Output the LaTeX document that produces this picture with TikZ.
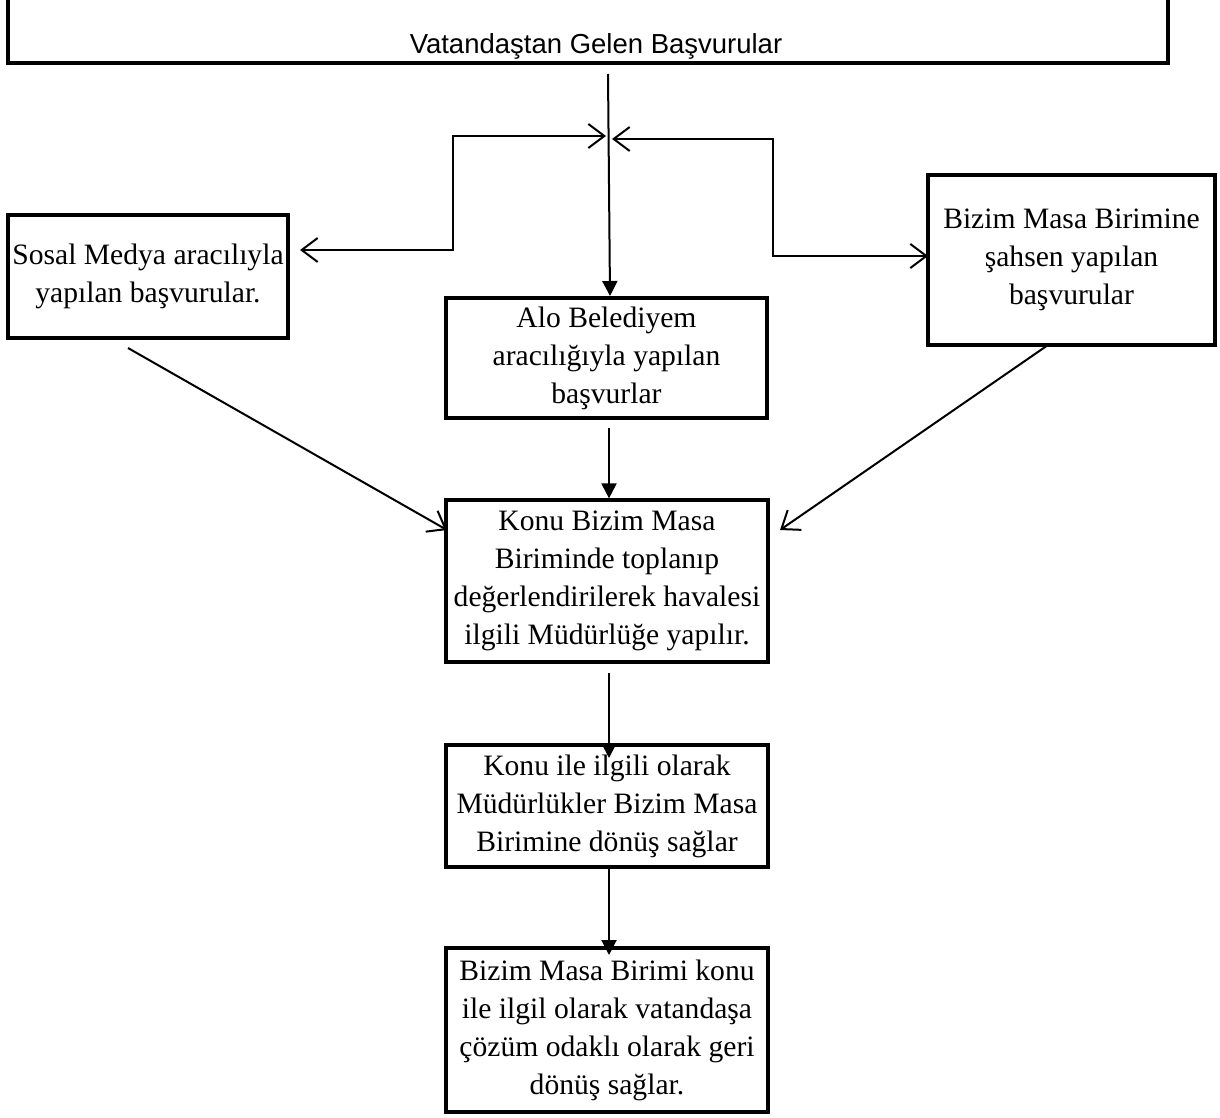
\documentclass[tikz,border=0pt]{standalone}
\usepackage{fontspec}
\setmainfont{Liberation Serif}
\newfontfamily\sansf{Liberation Sans}
\usetikzlibrary{arrows.meta}
\tikzset{
  box/.style={draw, line width=3.2pt, align=center, inner sep=0pt,
    font=\fontsize{29.6}{38}\selectfont},
  conn/.style={line width=2pt},
  fillarrow/.style={conn, -{Triangle[length=15pt,width=15pt]}},
  openarrow/.style={conn, -{Straight Barb[length=16pt,width=24pt,line width=2pt]}},
  openboth/.style={conn, {Straight Barb[length=16pt,width=24pt,line width=2pt]}-{Straight Barb[length=16pt,width=24pt,line width=2pt]}},
}
\begin{document}
\begin{tikzpicture}[x=1pt,y=-1pt]
\useasboundingbox (0,0) rectangle (1220,1118);
\clip (0,0) rectangle (1220,1118);
% boxes
\node[box, minimum width=1160pt, minimum height=83pt] (top) at (588,21.5) {};
\node[font=\sansf\fontsize{27.5}{30}\selectfont, inner sep=0pt] (toptext) at (596,46) {Vatandaştan Gelen Başvurular};
\node[box, minimum width=280pt, minimum height=123pt] (sosal) at (148,276.5) {Sosal Medya aracılıyla\\yapılan başvurular.};
\node[box, minimum width=287pt, minimum height=170pt] (sahsen) at (1071.5,260) {Bizim Masa Birimine\\şahsen yapılan\\başvurular};
\node[box, minimum width=321pt, minimum height=120pt] (alo) at (606.5,358) {Alo Belediyem\\aracılığıyla yapılan\\başvurlar};
\node[box, minimum width=322pt, minimum height=162pt] (konu) at (607,581) {Konu Bizim Masa\\Biriminde toplanıp\\değerlendirilerek havalesi\\ilgili Müdürlüğe yapılır.};
\node[box, minimum width=322pt, minimum height=122pt] (mud) at (607,806) {Konu ile ilgili olarak\\Müdürlükler Bizim Masa\\Birimine dönüş sağlar};
\node[box, minimum width=322pt, minimum height=164pt] (geri) at (607,1030) {Bizim Masa Birimi konu\\ile ilgil olarak vatandaşa\\çözüm odaklı olarak geri\\dönüş sağlar.};
% coordinates
\coordinate (vs) at (608,74);
\coordinate (ve) at (610,296);
\coordinate (jl) at (606,136);
\coordinate (lt) at (300,250);
\coordinate (jr) at (612,139);
\coordinate (rt) at (928,256);
% connectors
\draw[fillarrow] (vs) -- (ve);
\draw[openboth] (lt) -- (453,250) |- (jl);
\draw[openboth] (jr) -- (773,139) |- (rt);
\draw[fillarrow] (609,428) -- (konu.north -| 609,0);
\draw[fillarrow] (609,673) -- (609,758);
\draw[fillarrow] (609,868) -- (609,955);
\draw[openarrow] (128,348) -- (447,530);
\draw[openarrow] (1048,345) -- (780,530);
\end{tikzpicture}
\end{document}
